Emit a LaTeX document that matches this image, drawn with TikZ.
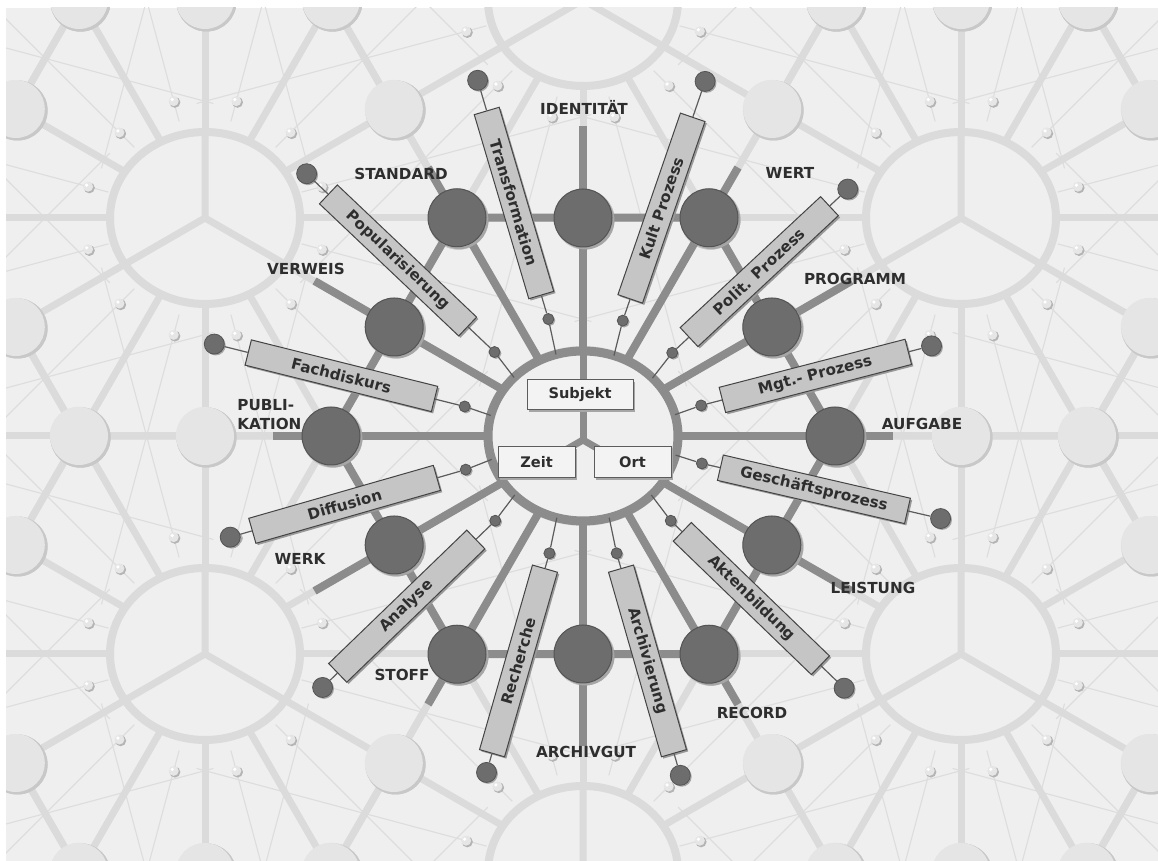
\documentclass[tikz,border=0pt]{standalone}
\usepackage{fontspec}
\setmainfont{DejaVu Sans}
\usetikzlibrary{calc,shadows}

\definecolor{paper}{HTML}{EFEFEF}
\definecolor{lattice}{HTML}{DBDBDB}
\definecolor{satfill}{HTML}{E5E5E5}
\definecolor{satrim}{HTML}{C8C8C8}
\definecolor{webgray}{HTML}{DDDDDD}
\definecolor{ballfill}{HTML}{E6E6E6}
\definecolor{ballshade}{HTML}{B4B4B4}
\definecolor{spokegray}{HTML}{8C8C8C}
\definecolor{hubdark}{HTML}{6D6D6D}
\definecolor{hubrim}{HTML}{545454}
\definecolor{hubshade}{HTML}{A6A6A6}
\definecolor{boxfill}{HTML}{C5C5C5}
\definecolor{boxrim}{HTML}{444444}
\definecolor{corefill}{HTML}{F3F3F3}
\definecolor{ink}{HTML}{2E2E2E}
\definecolor{wiregray}{HTML}{5C5C5C}

\tikzset{
  latticeline/.style={draw=lattice, line width=3.5pt},
  webstroke/.style={draw=webgray, line width=0.55pt},
  darkline/.style={draw=spokegray, line width=4pt},
  tagbox/.style={rectangle, draw=boxrim, line width=0.5pt, fill=boxfill,
    minimum width=96pt, minimum height=13pt, inner sep=0pt,
    font=\fontsize{7.6}{9}\selectfont\bfseries, text=ink,
    drop shadow={shadow xshift=0.9pt, shadow yshift=-0.9pt, fill=black!40, opacity=1}},
  hubdisc/.style={circle, fill=hubdark, draw=hubrim, line width=0.5pt,
    minimum size=29pt, inner sep=0pt,
    drop shadow={shadow xshift=1.2pt, shadow yshift=-1.2pt, fill=hubshade, opacity=1}},
  outdot/.style={circle, fill=hubdark, draw=hubrim, line width=0.4pt,
    minimum size=10pt, inner sep=0pt,
    drop shadow={shadow xshift=0.7pt, shadow yshift=-0.7pt, fill=hubshade, opacity=1}},
  indot/.style={outdot, minimum size=5.5pt},
  caption/.style={font=\fontsize{7.6}{9.5}\selectfont\bfseries, text=ink, inner sep=0pt},
  corebox/.style={rectangle, draw=wiregray, line width=0.5pt, fill=corefill,
    minimum height=15pt, inner sep=0pt, font=\fontsize{7.3}{9}\selectfont\bfseries, text=ink,
    drop shadow={shadow xshift=1pt, shadow yshift=-1pt, fill=black!35, opacity=1}},
  wire/.style={draw=wiregray, line width=0.6pt},
}

% hubs of the honeycomb (centre of every hexagon)
\def\outerhubs{583/-11,583/861,205/-229,205/207,205/643,205/1079,961/-229,961/207,961/643,961/1079,-173/-11,-173/425,-173/861,1339/-11,1339/425,1339/861}
\def\allhubs{583/425,583/-11,583/861,205/-229,205/207,205/643,205/1079,961/-229,961/207,961/643,961/1079,-173/-11,-173/425,-173/861,1339/-11,1339/425,1339/861}
\def\satlist{0/252,30/218,60/252,90/218,120/252,150/218,180/252,210/218,240/252,270/218,300/252,330/218}

\begin{document}
\begin{tikzpicture}[x=0.5pt,y=0.5pt]
\useasboundingbox (0,0) rectangle (1158,861);
\fill[white] (0,0) rectangle (1158,861);

\begin{scope}
  \clip (6,0) rectangle (1158,853);
  \fill[paper] (6,0) rectangle (1158,853);

  % fine web lines around every hub
  \foreach \hx/\hy in \outerhubs {
    \begin{scope}[shift={(\hx,\hy)}]
      \foreach \a in {15,45,...,345}
        \draw[webstroke] (\a:100) -- (\a:400);
    \end{scope}
  }

  % spokes and hexagon edges
  \foreach \hx/\hy in \allhubs {
    \begin{scope}[shift={(\hx,\hy)}]
      \foreach \a/\r in \satlist
        \draw[latticeline] (0,0) -- (\a:\r);
      \draw[latticeline, line join=round] (0:252) -- (60:252) -- (120:252)
        -- (180:252) -- (240:252) -- (300:252) -- cycle;
    \end{scope}
  }

  % hub rings with their inner three-way fork
  \foreach \hx/\hy in \allhubs {
    \begin{scope}[shift={(\hx,\hy)}]
      \filldraw[fill=paper, draw=lattice, line width=4pt] (0,0) ellipse [x radius=95, y radius=86];
      \draw[latticeline] (90:86) -- (0,0) -- (210:90) (0,0) -- (330:90);
    \end{scope}
  }

  % pale satellite discs
  \foreach \hx/\hy in \allhubs {
    \begin{scope}[shift={(\hx,\hy)}]
      \foreach \a/\r in \satlist {
        \fill[satrim, shift={(1.5,-1.5)}] (\a:\r) circle (30);
        \fill[satfill] (\a:\r) circle (29);
      }
    \end{scope}
  }

  % small beads on the web lines
  \foreach \hx/\hy in \outerhubs {
    \begin{scope}[shift={(\hx,\hy)}]
      \foreach \a in {15,45,...,345} {
        \fill[ballshade, shift={(1.2,-1.2)}] (\a:121) circle (5.5);
        \fill[ballfill] (\a:121) circle (5);
        \fill[white, shift={(-1.5,1.5)}] (\a:121) circle (1.8);
      }
    \end{scope}
  }
\end{scope}

% ---------- central hub ----------
\coordinate (C) at (583,425);
\foreach \a in {0,30,...,330}
  \draw[darkline] (C) -- ($(C)+(\a:310)$);
\draw[darkline, line join=round] ($(C)+(0:252)$) -- ($(C)+(60:252)$) -- ($(C)+(120:252)$)
  -- ($(C)+(180:252)$) -- ($(C)+(240:252)$) -- ($(C)+(300:252)$) -- cycle;
\filldraw[fill=paper, draw=spokegray, line width=4.5pt] (C) ellipse [x radius=95, y radius=85];
\coordinate (J) at (583,421);
\draw[darkline, line width=3.5pt] (J) -- ($(C)+(90:85)$);
\draw[darkline, line width=3.5pt] ($(J)+(210:40)$) -- (J) -- ($(J)+(330:40)$);

% dark satellites
\foreach \a/\r in \satlist
  \node[hubdisc] (sat\a) at ($(C)+(\a:\r)$) {};

% process tags on the fine lines
\foreach \k/\a/\dm/\dq/\rot/\txt in {
  1/14.5/240/360/14.5/{Mgt.- Prozess},
  2/43/241/362/43/{Polit. Prozess},
  3/71/241/375/71/{Kult Prozess},
  4/106.5/243/371/-73.5/{Transformation},
  5/136.5/255/381/-43.5/{Popularisierung},
  6/166/249/380/-14/{Fachdiskurs},
  7/196/248/367/16/{Diffusion},
  8/224/245/362/44/{Analyse},
  9/254/234/350/74/{Recherche},
  10/286/234/353/-74/{Archivierung},
  11/316/234/363/-44/{Aktenbildung},
  12/347/237/367/-13/{Geschäftsprozess}} {
  \coordinate (rim\k) at ($(C)+({95*cos(\a)},{85*sin(\a)})$);
  \node[indot] (in\k) at ($(C)+(\a:122)$) {};
  \node[outdot] (out\k) at ($(C)+(\a:\dq)$) {};
  \node[tagbox, rotate=\rot] (box\k) at ($(C)+(\a:\dm)$) {\txt};
  \draw[wire] (rim\k) -- (in\k) -- (box\k) -- (out\k);
}

% core boxes
\node[corebox, minimum width=53pt] (subj) at (580,466) {Subjekt};
\node[corebox, minimum width=38.5pt, minimum height=15.5pt] (zeit) at (536.5,398.5) {Zeit};
\node[corebox, minimum width=38.5pt, minimum height=15.5pt] (ort) at (632.5,398.5) {Ort};

% captions of the satellites
\node[caption] (capA) at (922,437) {AUFGABE};
\node[caption] (capB) at (855,582) {PROGRAMM};
\node[caption] (capC) at (790,688) {WERT};
\node[caption] (capD) at (584,754) {IDENTITÄT};
\node[caption] (capE) at (401,687) {STANDARD};
\node[caption] (capF) at (306,592) {VERWEIS};
\node[caption, anchor=west, align=left] (capG) at (237,446) {PUBLI-\\KATION};
\node[caption] (capH) at (300,302) {WERK};
\node[caption] (capI) at (402,186) {STOFF};
\node[caption] (capJ) at (586,109) {ARCHIVGUT};
\node[caption] (capK) at (752,148) {RECORD};
\node[caption] (capL) at (873,273) {LEISTUNG};
\end{tikzpicture}
\end{document}
